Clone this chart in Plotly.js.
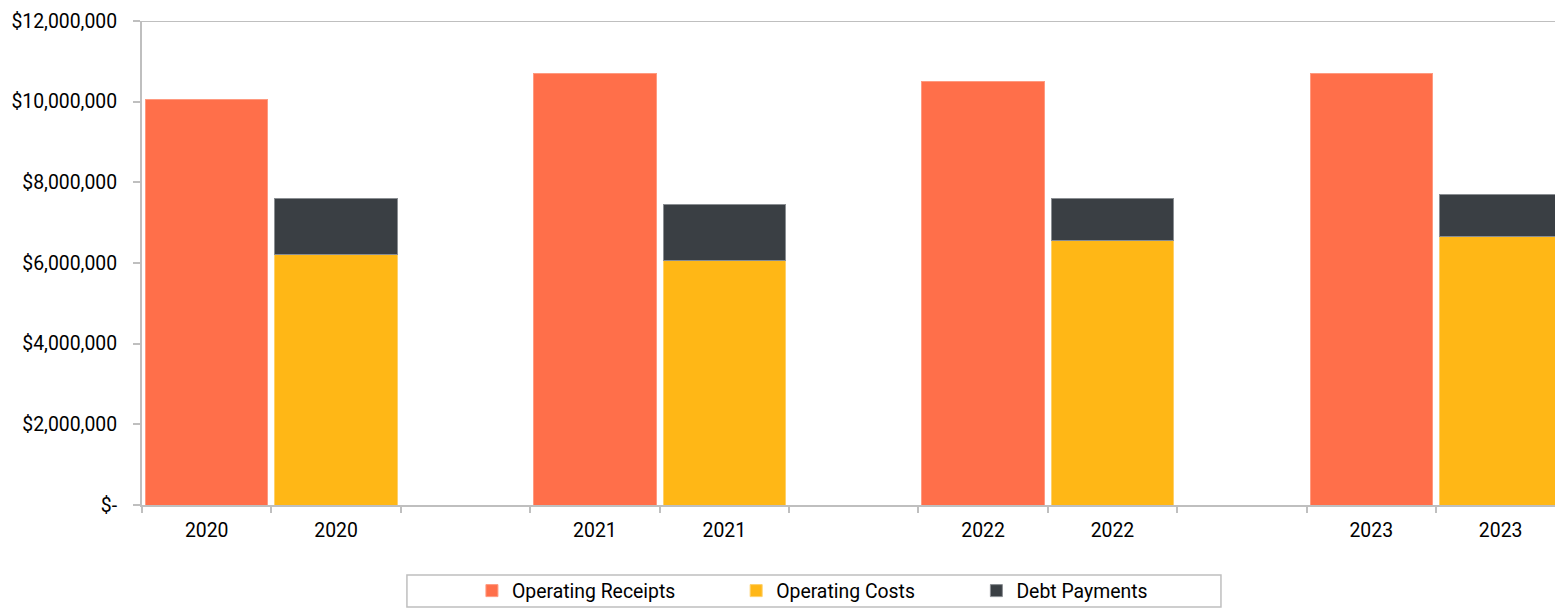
<!DOCTYPE html>
<html>
<head>
<meta charset="utf-8">
<script src="https://cdn.plot.ly/plotly-3.0.1.min.js"></script>
<style>
  html, body { margin: 0; padding: 0; background: #ffffff; }
  #chart { width: 1555px; height: 613px; }
</style>
</head>
<body>
<div id="chart"></div>
<script>
// ---- data ----
const years = ['2020', '2021', '2022', '2023'];
const operatingReceipts = [10050000, 10690000, 10510000, 10690000];
const operatingCosts = [6220000, 6070000, 6550000, 6660000];
const debtPayments = [1370000, 1390000, 1050000, 1050000];
const yTickValues = [0, 2000000, 4000000, 6000000, 8000000, 10000000, 12000000];
const yTickLabels = ['$-', '$2,000,000', '$4,000,000', '$6,000,000', '$8,000,000', '$10,000,000', '$12,000,000'];

// each year occupies three slots: receipts, costs+debt, empty gap
const slotsPerYear = 3;
const receiptPos = years.map((y, i) => i * slotsPerYear);
const costPos = years.map((y, i) => i * slotsPerYear + 1);
const nSlots = years.length * slotsPerYear - 1;
const labelPos = [];
const labelText = [];
years.forEach((y, i) => {
  labelPos.push(receiptPos[i], costPos[i]);
  labelText.push(y, y);
});
const boundaries = [];
for (let k = 0; k <= nSlots; k++) boundaries.push(k - 0.5);

const FONT = 'Roboto, "Open Sans", Arial, sans-serif';
const FS = 19.4;
const AXIS = '#bfbfbf';
const X_RANGE = [-0.5, nSlots - 0.58];

const traces = [
  {
    type: 'bar', name: 'Operating Receipts', x: receiptPos, y: operatingReceipts,
    width: 0.945, marker: { color: '#FF6F4A', line: { color: '#ff9a80', width: 1 } },
    legend: 'legend', hoverinfo: 'y'
  },
  {
    type: 'bar', name: 'Operating Costs', x: costPos, y: operatingCosts,
    width: 0.945, marker: { color: '#FFB716', line: { color: '#ffd16a', width: 1 } },
    legend: 'legend2', hoverinfo: 'y'
  },
  {
    type: 'bar', name: 'Debt Payments', x: costPos, y: debtPayments,
    width: 0.945, marker: { color: '#3A3F44', line: { color: '#8a8e92', width: 1 } },
    legend: 'legend3', hoverinfo: 'y'
  }
];

const legendCommon = {
  orientation: 'h', xanchor: 'left', yanchor: 'middle', y: -0.1777,
  bgcolor: 'rgba(0,0,0,0)', borderwidth: 0,
  font: { family: FONT, size: FS, color: '#000000' },
  itemwidth: 30
};

const layout = {
  width: 1555, height: 613,
  margin: { l: 142, r: 0, t: 21, b: 108 },
  paper_bgcolor: '#ffffff', plot_bgcolor: '#ffffff',
  barmode: 'stack',
  font: { family: FONT, size: FS, color: '#000000' },
  xaxis: {
    range: X_RANGE,
    tickmode: 'array', tickvals: labelPos, ticktext: labelText,
    ticks: '', showgrid: false, zeroline: false,
    showline: true, linecolor: AXIS, linewidth: 2,
    ticklabelstandoff: 7,
    tickfont: { family: FONT, size: FS, color: '#000000' },
    fixedrange: true
  },
  xaxis2: {
    overlaying: 'x', anchor: 'y', side: 'bottom',
    range: X_RANGE,
    tickmode: 'array', tickvals: boundaries, ticktext: boundaries.map(() => ''),
    ticks: 'outside', ticklen: 7, tickwidth: 2, tickcolor: AXIS,
    showgrid: false, zeroline: false, showline: false,
    fixedrange: true
  },
  yaxis: {
    range: [0, 12000000],
    tickmode: 'array', tickvals: yTickValues, ticktext: yTickLabels,
    ticks: 'outside', ticklen: 7, tickwidth: 2, tickcolor: AXIS,
    showgrid: false, zeroline: false,
    showline: true, linecolor: AXIS, linewidth: 2,
    ticklabelstandoff: 12,
    tickfont: { family: FONT, size: FS, color: '#000000' },
    fixedrange: true
  },
  legend: Object.assign({}, legendCommon, { x: 0.2335 }),
  legend2: Object.assign({}, legendCommon, { x: 0.4205 }),
  legend3: Object.assign({}, legendCommon, { x: 0.5905 }),
  shapes: [
    { type: 'line', xref: 'paper', yref: 'y', x0: 0, x1: 1, y0: 12000000, y1: 12000000,
      line: { color: AXIS, width: 2 } },
    { type: 'rect', xref: 'paper', yref: 'paper', x0: 0.1875, x1: 0.7636, y0: -0.2107, y1: -0.1446,
      line: { color: AXIS, width: 1.5 }, fillcolor: 'rgba(0,0,0,0)' }
  ],
  showlegend: true
};

// empty trace to activate xaxis2 (no visible marks)
traces.push({ type: 'scatter', x: [], y: [], xaxis: 'x2', yaxis: 'y', showlegend: false, hoverinfo: 'skip' });

Plotly.newPlot('chart', traces, layout, { displayModeBar: false, staticPlot: true });
</script>
</body>
</html>
